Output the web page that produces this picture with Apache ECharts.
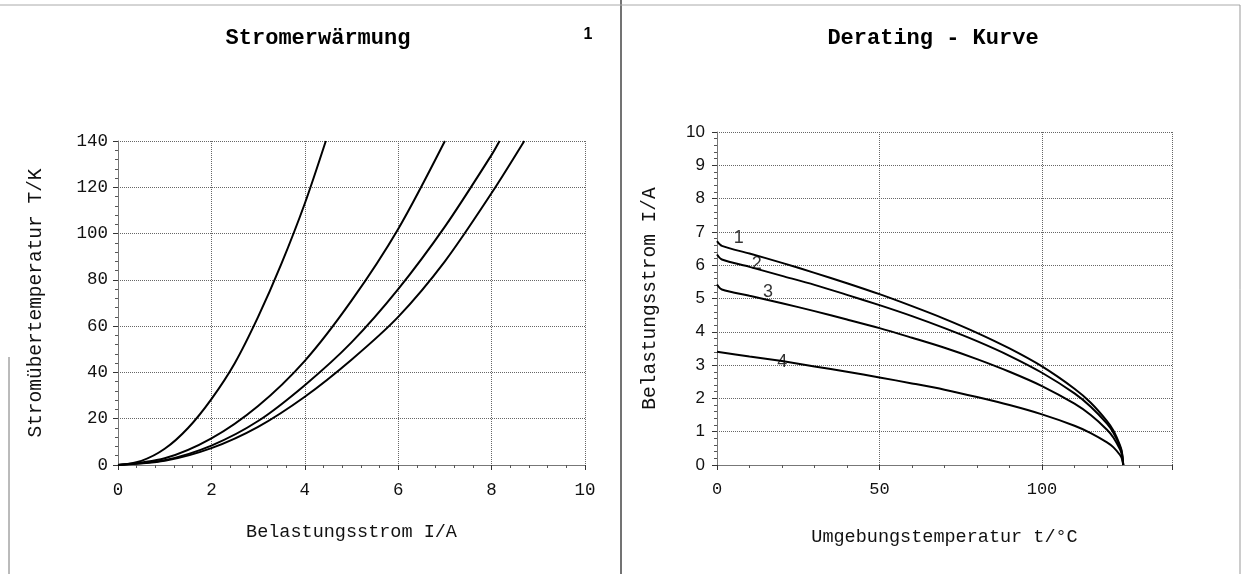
<!DOCTYPE html>
<html>
<head>
<meta charset="utf-8">
<script src="https://cdn.jsdelivr.net/npm/echarts@6/dist/echarts.min.js"></script>
<style>
  html, body { margin: 0; padding: 0; background: #fff; }
  #main { width: 1243px; height: 574px; }
</style>
</head>
<body>
<div id="main"></div>
<script>
// Stromerwärmung: [I/A, T/K]
const kurveA = [[0, 0], [0.5, 1.8], [1, 7], [1.5, 16], [2, 28.5], [2.5, 44], [3, 64], [3.5, 87], [4, 113], [4.45, 140]];
const kurveB = [[0, 0], [1, 2.9], [2, 11.5], [3, 25.5], [4, 45], [5, 71], [6, 102], [7, 140]];
const kurveC = [[0, 0], [1, 2.1], [2, 8.4], [3, 19], [4, 34.5], [5, 53], [6, 76], [7, 103], [8, 134], [8.17, 140]];
const kurveD = [[0, 0], [1, 1.8], [2, 7.3], [3, 16.5], [4, 29.5], [5, 45.5], [6, 64], [7, 88], [8, 117.5], [8.7, 140]];

// Derating: [t/°C, I/A]
const derating1 = [[0, 6.72], [1.5, 6.58], [10, 6.35], [20, 6.07], [30, 5.77], [40, 5.46], [50, 5.13], [60, 4.77], [70, 4.39], [80, 3.97], [90, 3.5], [100, 2.96], [110, 2.29], [115, 1.87], [120, 1.32], [122, 1.03], [124, 0.59], [124.6, 0.38], [125, 0]];
const derating2 = [[0, 6.32], [1.5, 6.17], [10, 5.95], [20, 5.68], [30, 5.41], [40, 5.11], [50, 4.8], [60, 4.47], [70, 4.11], [80, 3.72], [90, 3.28], [100, 2.77], [110, 2.15], [115, 1.75], [120, 1.24], [122, 0.96], [124, 0.55], [124.6, 0.35], [125, 0]];
const derating3 = [[0, 5.42], [1.5, 5.27], [10, 5.08], [20, 4.86], [30, 4.62], [40, 4.37], [50, 4.11], [60, 3.82], [70, 3.52], [80, 3.18], [90, 2.8], [100, 2.37], [110, 1.84], [115, 1.5], [120, 1.06], [122, 0.82], [124, 0.47], [124.6, 0.3], [125, 0]];
const derating4 = [[0, 3.4], [10, 3.26], [20, 3.12], [30, 2.96], [40, 2.8], [50, 2.63], [60, 2.45], [70, 2.26], [80, 2.04], [90, 1.8], [100, 1.52], [110, 1.18], [115, 0.96], [120, 0.68], [122, 0.53], [124, 0.3], [124.6, 0.19], [125, 0]];
const kurvenNamen = ['1', '2', '3', '4'];
const namenPos = [[6.7, 6.82], [12.2, 6.04], [15.7, 5.19], [20.1, 3.1]];

const mono = 'Liberation Mono';
const sans = 'Liberation Sans';

const chart = echarts.init(document.getElementById('main'));

function achse(extra) {
  return Object.assign({
    type: 'value',
    axisLine: { show: true, lineStyle: { color: '#777', width: 1 } },
    axisTick: { show: true, length: 5, lineStyle: { color: '#333' } },
    minorTick: { show: true, splitNumber: 5, length: 3, lineStyle: { color: '#555' } },
    splitLine: { show: true, lineStyle: { color: '#666', type: 'dotted', width: 1 } },
    nameLocation: 'middle'
  }, extra);
}

function linie(data, x, y) {
  return {
    type: 'line',
    xAxisIndex: x,
    yAxisIndex: y,
    data: data,
    smooth: 0.3,
    showSymbol: false,
    silent: true,
    lineStyle: { color: '#000', width: 2 }
  };
}

const option = {
  animation: false,
  title: [{
    text: 'Stromerwärmung',
    left: 313,
    top: 22,
    textAlign: 'center',
    textStyle: { fontFamily: mono, fontWeight: 'bold', fontSize: 22, color: '#000' }
  }, {
    text: 'Derating - Kurve',
    left: 928,
    top: 22,
    textAlign: 'center',
    textStyle: { fontFamily: mono, fontWeight: 'bold', fontSize: 22, color: '#000' }
  }, {
    text: '1',
    left: 583,
    top: 22,
    textAlign: 'center',
    textStyle: { fontFamily: sans, fontWeight: 'bold', fontSize: 16, color: '#000' }
  }],
  grid: [
    { left: 118, top: 141, width: 467, height: 324 },
    { left: 717, top: 132, width: 455, height: 333 }
  ],
  xAxis: [
    achse({ gridIndex: 0, min: 0, max: 10, interval: 2, name: 'Belastungsstrom I/A', nameGap: 58,
      nameTextStyle: { color: '#111', fontFamily: mono, fontSize: 18.5 },
      axisLabel: { color: '#111', fontFamily: mono, fontSize: 17.5, margin: 16 } }),
    achse({ gridIndex: 1, min: 0, max: 140, interval: 50, name: 'Umgebungstemperatur t/°C', nameGap: 63,
      nameTextStyle: { color: '#111', fontFamily: mono, fontSize: 18.5 },
      axisLabel: { color: '#111', fontFamily: mono, fontSize: 17, margin: 16, showMaxLabel: false } })
  ],
  yAxis: [
    achse({ gridIndex: 0, min: 0, max: 140, interval: 20, name: 'Stromübertemperatur T/K', nameGap: 72,
      nameTextStyle: { color: '#111', fontFamily: mono, fontSize: 19.5 },
      axisLabel: { color: '#111', fontFamily: mono, fontSize: 17.5, margin: 10 } }),
    achse({ gridIndex: 1, min: 0, max: 10, interval: 1, name: 'Belastungsstrom I/A', nameGap: 57,
      nameTextStyle: { color: '#111', fontFamily: mono, fontSize: 19.5 },
      axisLabel: { color: '#111', fontFamily: sans, fontSize: 17, margin: 12 } })
  ],
  series: [
    linie(kurveA, 0, 0),
    linie(kurveB, 0, 0),
    linie(kurveC, 0, 0),
    linie(kurveD, 0, 0),
    linie(derating1, 1, 1),
    linie(derating2, 1, 1),
    linie(derating3, 1, 1),
    linie(derating4, 1, 1),
    {
      type: 'scatter',
      xAxisIndex: 1,
      yAxisIndex: 1,
      symbolSize: 0,
      silent: true,
      data: namenPos.map((p, i) => ({ value: p, name: kurvenNamen[i] })),
      label: {
        show: true,
        position: 'inside',
        formatter: '{b}',
        fontFamily: sans,
        fontSize: 18,
        color: '#000'
      }
    }
  ],
  graphic: [
    { type: 'line', shape: { x1: 621, y1: 0, x2: 621, y2: 574 }, style: { stroke: '#444', lineWidth: 1.5 } },
    { type: 'line', shape: { x1: 0, y1: 5, x2: 1240, y2: 5 }, style: { stroke: '#aaa', lineWidth: 1 } },
    { type: 'line', shape: { x1: 1240, y1: 5, x2: 1240, y2: 574 }, style: { stroke: '#999', lineWidth: 1 } },
    { type: 'line', shape: { x1: 9, y1: 357, x2: 9, y2: 574 }, style: { stroke: '#777', lineWidth: 1 } }
  ]
};

chart.setOption(option);
</script>
</body>
</html>
